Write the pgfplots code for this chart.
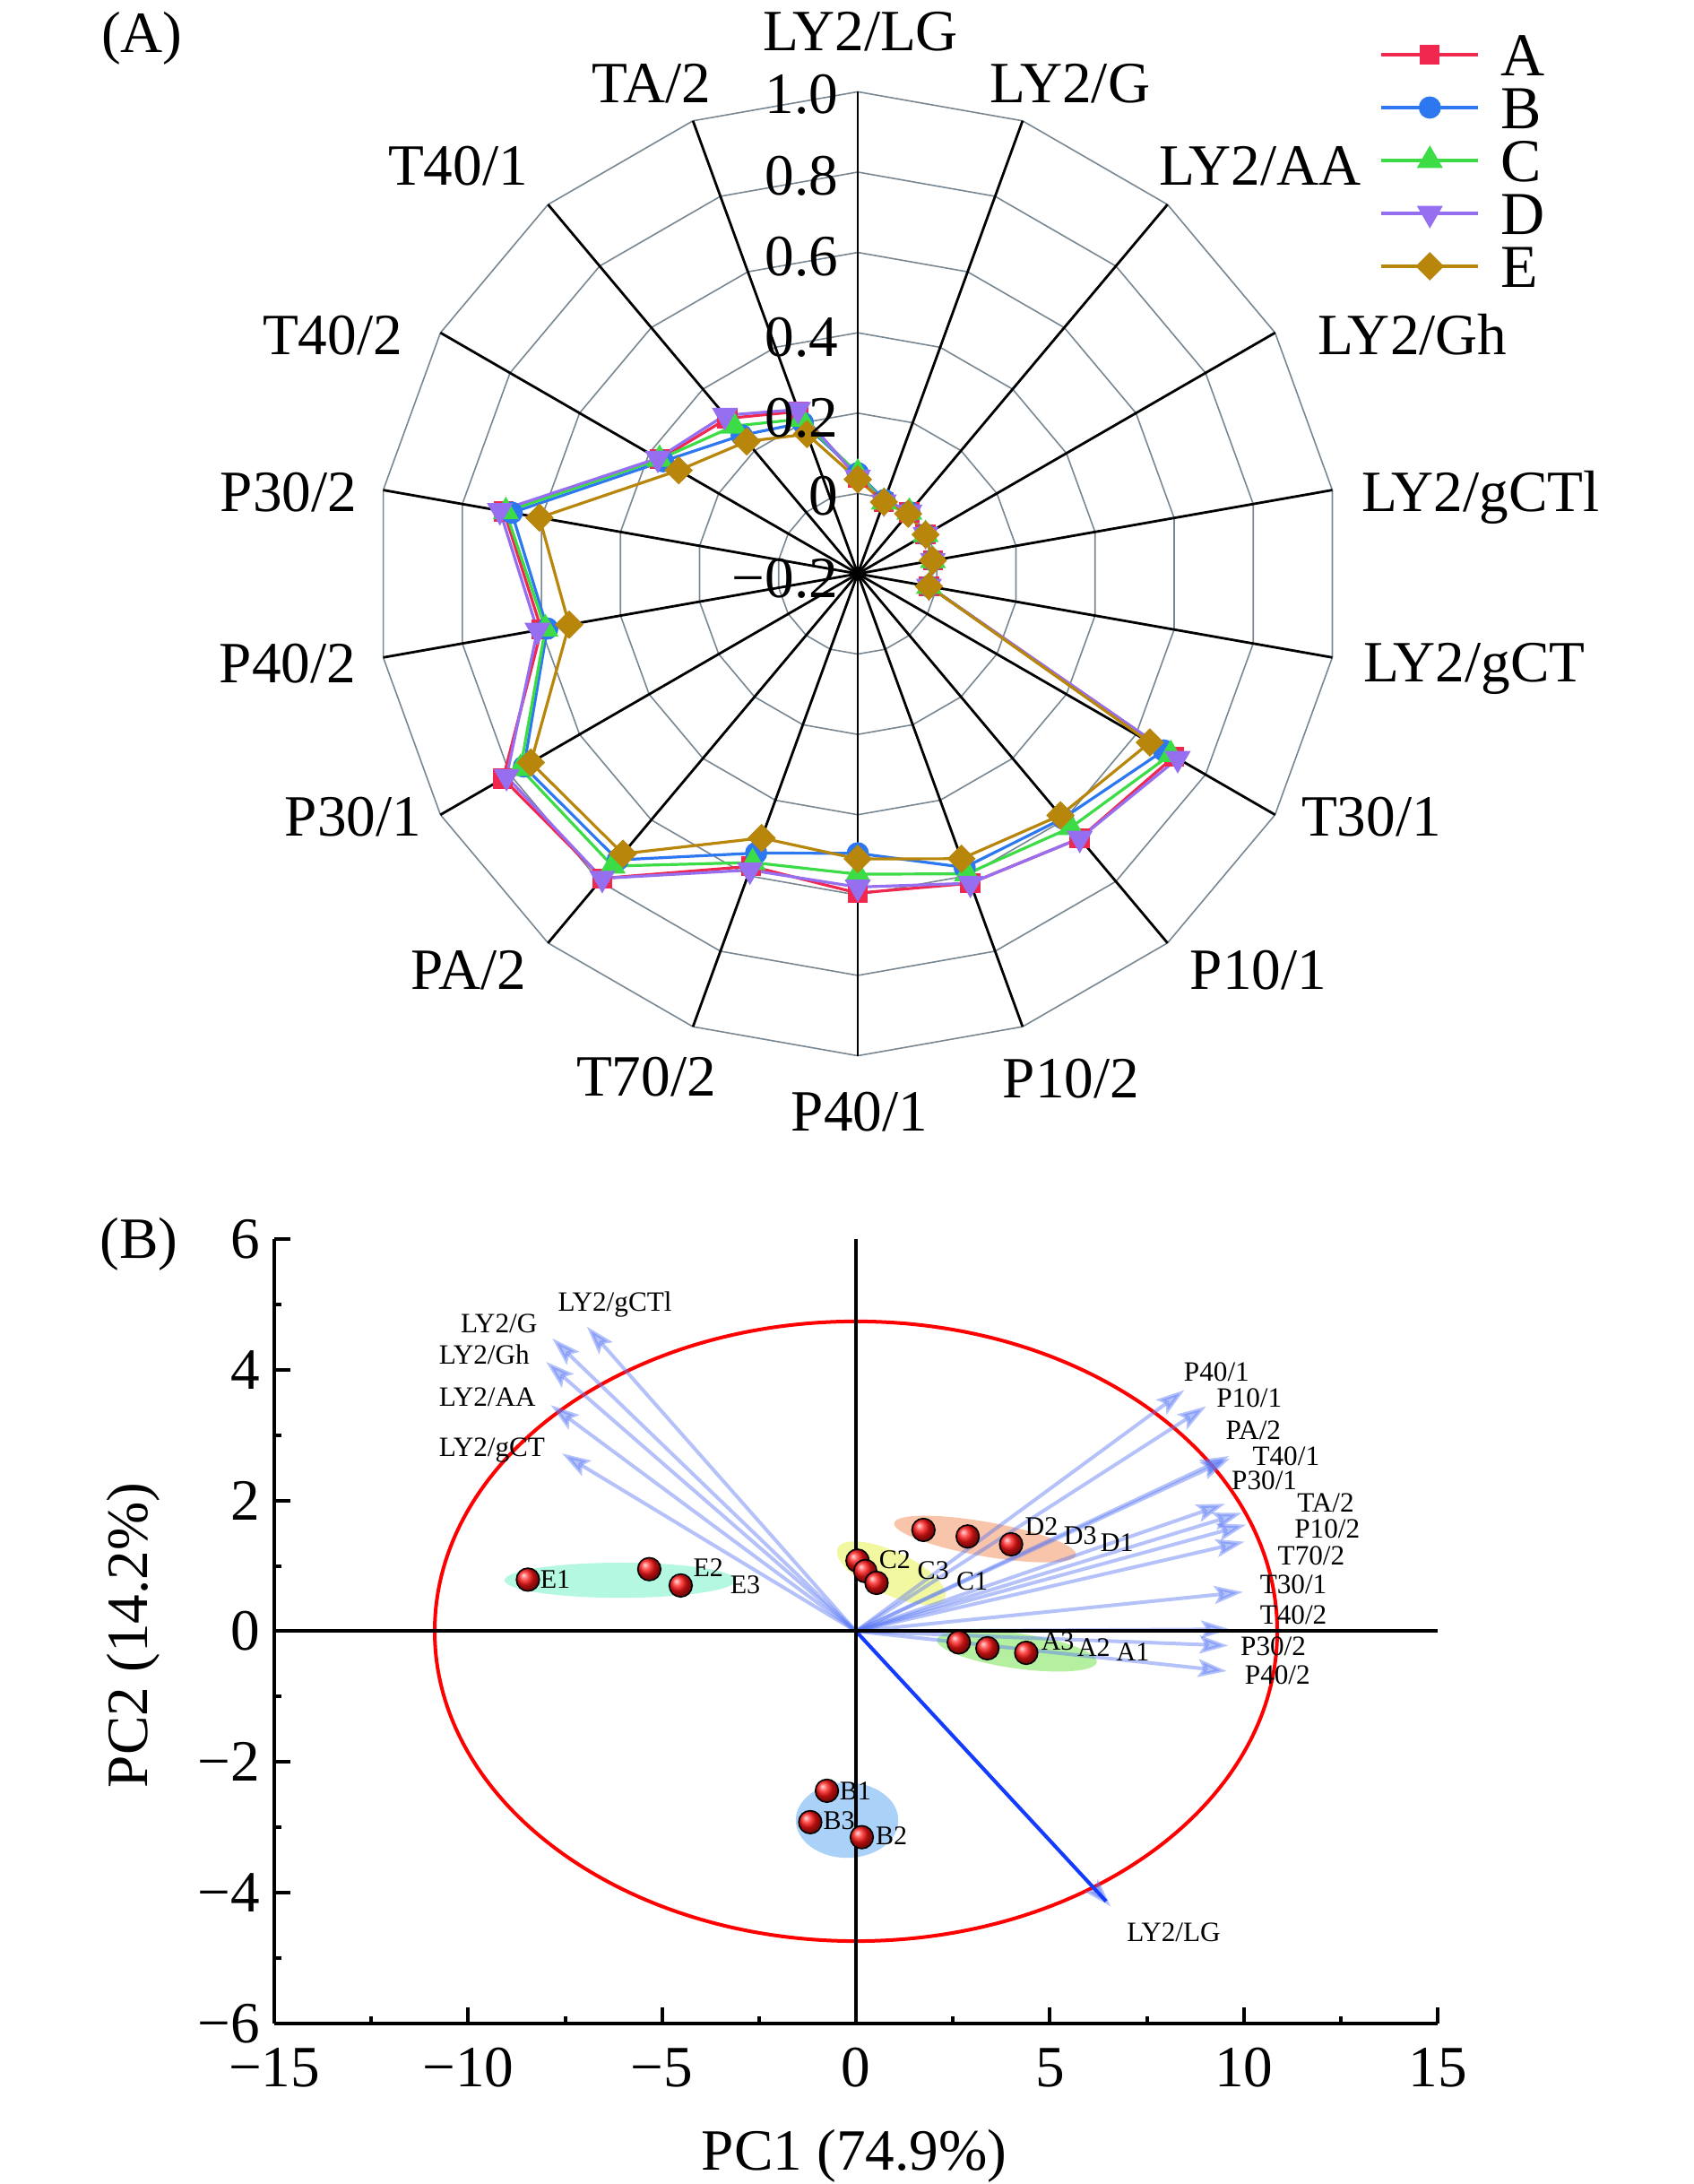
\documentclass[border=0pt]{standalone}
\usepackage{fontspec}
\setmainfont{Liberation Serif}
\usepackage{pgfplots}
\usepackage{pgfplotstable}
\pgfplotsset{compat=1.18}
\usetikzlibrary{arrows.meta}

\definecolor{sA}{RGB}{240,40,80}
\definecolor{sB}{RGB}{45,120,240}
\definecolor{sC}{RGB}{60,220,70}
\definecolor{sD}{RGB}{150,110,240}
\definecolor{sE}{RGB}{184,134,11}
\definecolor{ringgray}{RGB}{120,135,145}
\definecolor{arrblue}{RGB}{90,120,245}
\definecolor{lgblue}{RGB}{20,60,255}
\definecolor{ellA}{RGB}{180,240,160}
\definecolor{ellB}{RGB}{170,210,248}
\definecolor{ellC}{RGB}{242,248,160}
\definecolor{ellD}{RGB}{248,196,170}
\definecolor{ellE}{RGB}{180,248,225}

\newcommand\lab{\fontsize{16.3}{18}\selectfont}
\newcommand\sml{\fontsize{7.8}{9}\selectfont}

% radar values, angle measured clockwise from the top spoke
\pgfplotstableread{
ang A B C D E
0 0.04 0.05 0.05 0.04 0.035
20 -0.01 -0.005 -0.01 -0.01 -0.01
40 0.0 0.0 0.0 0.0 -0.005
60 -0.005 -0.005 -0.005 -0.005 -0.005
80 -0.01 -0.01 -0.01 -0.01 -0.01
100 -0.02 -0.02 -0.02 -0.02 -0.02
120 0.71 0.68 0.70 0.72 0.64
140 0.66 0.595 0.625 0.66 0.585
160 0.62 0.578 0.595 0.62 0.555
180 0.595 0.496 0.548 0.58 0.51
200 0.575 0.54 0.565 0.585 0.50
220 0.79 0.73 0.75 0.79 0.71
240 0.82 0.76 0.77 0.81 0.74
260 0.60 0.585 0.59 0.61 0.53
280 0.695 0.675 0.69 0.705 0.605
300 0.37 0.36 0.37 0.375 0.315
320 0.305 0.25 0.28 0.315 0.23
340 0.23 0.20 0.21 0.235 0.17
360 0.04 0.05 0.05 0.04 0.035
}\radar

% PCA loadings (arrows from the origin)
\pgfplotstableread{
x y u v
0 0 -6.94 4.66
0 0 -7.83 4.48
0 0 -7.99 4.12
0 0 -7.87 3.46
0 0 -7.58 2.72
0 0 8.47 3.69
0 0 9.03 3.44
0 0 9.62 2.68
0 0 9.64 2.64
0 0 9.52 1.95
0 0 9.95 1.81
0 0 10.06 1.63
0 0 10.02 1.37
0 0 9.98 0.60
0 0 9.64 0.03
0 0 9.60 -0.22
0 0 9.56 -0.61
0 0 6.57 -4.21
}\loadings

% PCA scores
\pgfplotstableread{
x y
-8.46 0.79
-5.33 0.95
-4.52 0.70
0.04 1.08
0.24 0.92
0.53 0.74
1.74 1.55
2.88 1.45
4.00 1.33
2.65 -0.17
3.39 -0.26
4.39 -0.33
-0.75 -2.44
-1.18 -2.92
0.15 -3.15
}\scores

% one radar series: #1 plot options, #2 column
\newcommand\radarplot[2]{%
  \addplot[line width=0.8pt, #1] table[
    x expr={(\thisrow{#2}+0.2)*sin(\thisrow{ang})},
    y expr={(\thisrow{#2}+0.2)*cos(\thisrow{ang})}] {\radar};}

\begin{document}
\begin{tikzpicture}
\useasboundingbox (0,0) rectangle (472.5pt,609pt);

% ---------- (A) radar grid ----------
\begin{scope}[shift={(239.25pt,449pt)}]
  \foreach \r in {22.4,44.8,67.2,89.6,112,134.4}
    \draw[ringgray, line width=0.4pt] plot[samples at={10,30,...,350}] (\x:\r pt) -- cycle;
  \foreach \a in {10,30,...,350}
    \draw[black, line width=0.7pt] (0,0) -- (\a:134.4pt);
\end{scope}

\begin{axis}[
  at={(239.25pt,449pt)}, anchor=center,
  scale only axis, width=268.8pt, height=268.8pt,
  xmin=-1.2, xmax=1.2, ymin=-1.2, ymax=1.2,
  enlargelimits=false, hide axis, clip=false,
  legend image code/.code={\draw[mark repeat=2,mark phase=2,#1]
    plot coordinates {(0pt,0pt) (13.5pt,0pt) (27pt,0pt)};},
  legend style={draw=none, fill=none, at={(1.030,1.069)}, anchor=north west,
    font=\fontsize{17}{17}\selectfont, row sep=2.75pt, column sep=6pt,
    nodes={inner sep=0pt, text height=12pt, text depth=0pt}},
  legend cell align=left,
]
\radarplot{sA, mark=square*, mark size=2.4pt}{A}
\radarplot{sB, mark=*, mark size=2.7pt}{B}
\radarplot{sC, mark=triangle*, mark size=3.4pt}{C}
\radarplot{sD, mark=triangle*, mark size=3.4pt, mark options={rotate=180}}{D}
\radarplot{sE, mark=square*, mark size=2.4pt, mark options={rotate=45}}{E}
\legend{A,B,C,D,E}
\end{axis}

% spoke names
\begin{scope}[every node/.style={anchor=base, inner sep=0pt, font=\lab}]
\node at (240pt,594.75pt) {LY2/LG};
\node at (298.5pt,580.25pt) {LY2/G};
\node at (351.5pt,557.25pt) {LY2/AA};
\node at (394pt,510pt) {LY2/Gh};
\node at (413pt,466.25pt) {LY2/gCTl};
\node at (411.25pt,418.75pt) {LY2/gCT};
\node at (382.5pt,375.75pt) {T30/1};
\node at (351pt,333pt) {P10/1};
\node at (298.75pt,302.75pt) {P10/2};
\node at (239.75pt,293.5pt) {P40/1};
\node at (180.25pt,303.25pt) {T70/2};
\node at (130.75pt,333pt) {PA/2};
\node at (98.5pt,375.75pt) {P30/1};
\node at (80.25pt,418.5pt) {P40/2};
\node at (80.5pt,466.25pt) {P30/2};
\node at (92.75pt,510pt) {T40/2};
\node at (127.75pt,557.25pt) {T40/1};
\node at (181.75pt,580.25pt) {TA/2};
\end{scope}
% radial scale
\begin{scope}[every node/.style={anchor=base east, inner sep=0pt, font=\lab}]
\node at (234pt,577.25pt) {1.0};
\node at (234pt,554.5pt) {0.8};
\node at (234pt,532pt) {0.6};
\node at (234pt,509.5pt) {0.4};
\node at (234pt,487pt) {0.2};
\node at (234pt,465.25pt) {0};
\node at (234pt,442.25pt) {−0.2};
\end{scope}
\node[font=\lab, inner sep=0pt] at (39.6pt,598.4pt) {(A)};

% ---------- (B) PCA biplot ----------
\begin{axis}[
  at={(76.5pt,44.75pt)}, anchor=south west,
  scale only axis, width=324.5pt, height=218.75pt,
  xmin=-15, xmax=15, ymin=-6, ymax=6,
  axis x line*=bottom, axis y line*=left,
  axis line style={line width=1pt},
  tick align=inside, tick style={black, line width=1pt},
  major tick length=4.5pt, minor tick length=2pt,
  xtick={-15,-10,-5,0,5,10,15}, xticklabels={−15,−10,−5,0,5,10,15},
  ytick={-6,-4,-2,0,2,4,6}, yticklabels={−6,−4,−2,0,2,4,6},
  minor x tick num=1, minor y tick num=1,
  tick label style={font=\lab},
  xticklabel style={yshift=-3.3pt},
  yticklabel style={xshift=-0.4pt},
  clip=false,
]
% group ellipses
\fill[ellE] (axis cs:-6.08,0.78) ellipse [x radius=32.25pt, y radius=4.9pt];
\fill[ellC, rotate around={-25:(axis cs:0.91,0.89)}] (axis cs:0.91,0.89) ellipse [x radius=16.5pt, y radius=6pt];
\fill[ellD, rotate around={-10:(axis cs:3.33,1.41)}] (axis cs:3.33,1.41) ellipse [x radius=25.75pt, y radius=4.8pt];
\fill[ellA, rotate around={-8:(axis cs:4.15,-0.30)}] (axis cs:4.15,-0.30) ellipse [x radius=22.5pt, y radius=4.9pt];
\fill[ellB] (axis cs:-0.23,-2.89) ellipse [x radius=14.3pt, y radius=10.5pt];
% confidence ellipse
\draw[red, line width=1pt] (axis cs:0,0) ellipse [x radius=117.5pt, y radius=86.4pt];
% loadings
\addplot[arrblue, opacity=0.45, line width=1pt,
  quiver={u=\thisrow{u}, v=\thisrow{v},
    every arrow/.append style={-{Stealth[length=8pt, width=5pt, inset=1.5pt]}}}]
  table {\loadings};
\addplot[lgblue, line width=1pt] coordinates {(0,0) (6.45,-4.13)};
% zero lines
\draw[black, line width=1pt] (axis cs:-15,0) -- (axis cs:15,0);
\draw[black, line width=0.8pt] (axis cs:0,-6) -- (axis cs:0,6);
% scores
\addplot[only marks, mark=ball, ball color=red!92!white, mark size=3.2pt] table {\scores};
% score labels
\begin{scope}[every node/.style={anchor=west, inner sep=0pt, font=\fontsize{7.5}{9}\selectfont}]
\node at (axis cs:-8.16,0.80) {E1};
\node at (axis cs:-4.21,0.97) {E2};
\node at (axis cs:-3.26,0.71) {E3};
\node at (axis cs:0.58,1.09) {C2};
\node at (axis cs:1.57,0.93) {C3};
\node at (axis cs:2.57,0.76) {C1};
\node at (axis cs:4.34,1.60) {D2};
\node at (axis cs:5.34,1.47) {D3};
\node at (axis cs:6.29,1.36) {D1};
\node at (axis cs:4.76,-0.16) {A3};
\node at (axis cs:5.69,-0.25) {A2};
\node at (axis cs:6.70,-0.32) {A1};
\node at (axis cs:-0.44,-2.45) {B1};
\node at (axis cs:-0.86,-2.90) {B3};
\node at (axis cs:0.49,-3.13) {B2};
\end{scope}
% loading labels
\begin{scope}[every node/.style={anchor=base west, inner sep=0pt, font=\sml}]
\node at (axis cs:-7.70,4.89) {LY2/gCTl};
\node at (axis cs:-10.21,4.56) {LY2/G};
\node at (axis cs:-10.77,4.08) {LY2/Gh};
\node at (axis cs:-10.77,3.44) {LY2/AA};
\node at (axis cs:-10.77,2.68) {LY2/gCT};
\node at (axis cs:8.44,3.83) {P40/1};
\node at (axis cs:9.28,3.43) {P10/1};
\node at (axis cs:9.52,2.93) {PA/2};
\node at (axis cs:10.21,2.53) {T40/1};
\node at (axis cs:9.67,2.16) {P30/1};
\node at (axis cs:11.36,1.82) {TA/2};
\node at (axis cs:11.29,1.43) {P10/2};
\node at (axis cs:10.86,1.02) {T70/2};
\node at (axis cs:10.40,0.57) {T30/1};
\node at (axis cs:10.40,0.11) {T40/2};
\node at (axis cs:9.90,-0.37) {P30/2};
\node at (axis cs:10.01,-0.81) {P40/2};
\node at (axis cs:6.97,-4.75) {LY2/LG};
\end{scope}
\end{axis}
\node[font=\lab, anchor=base, inner sep=0pt] at (238.25pt,3.75pt) {PC1 (74.9\%)};
\node[font=\lab, rotate=90, inner sep=0pt] at (37.25pt,153pt) {PC2 (14.2\%)};
\node[font=\lab, inner sep=0pt] at (38.75pt,262.1pt) {(B)};
\end{tikzpicture}
\end{document}
